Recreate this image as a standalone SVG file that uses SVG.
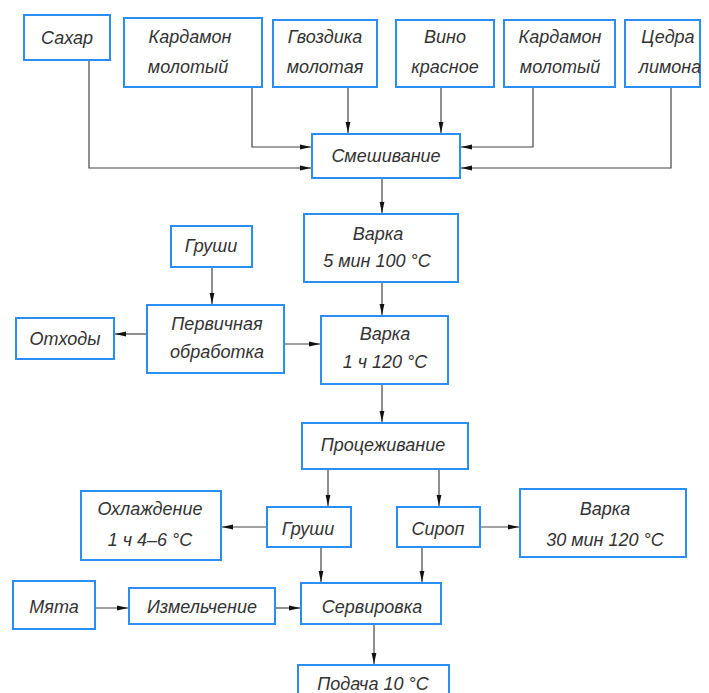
<svg xmlns="http://www.w3.org/2000/svg" width="709" height="693" viewBox="0 0 709 693">
<style>
.b{fill:#fff;stroke:#2b8ef5;stroke-width:2}
.t{font-family:"Liberation Sans",Arial,sans-serif;font-style:italic;font-size:18px;fill:#333;text-anchor:middle}
.c{fill:none;stroke:#444;stroke-width:1.2}
</style>
<defs>
<marker id="a" markerUnits="userSpaceOnUse" markerWidth="12" markerHeight="8" refX="11" refY="4" orient="auto">
<path d="M0,1.6 L11,4 L0,6.4 z" fill="#111"/>
</marker>
</defs>
<rect width="709" height="693" fill="#fff"/>
<g id="connectors">
<path class="c" d="M89,60 V168 H311" marker-end="url(#a)"/>
<path class="c" d="M252,87 V147 H311" marker-end="url(#a)"/>
<path class="c" d="M348,87 V133" marker-end="url(#a)"/>
<path class="c" d="M441,87 V133" marker-end="url(#a)"/>
<path class="c" d="M533,87 V147 H461" marker-end="url(#a)"/>
<path class="c" d="M671,87 V168 H461" marker-end="url(#a)"/>
<path class="c" d="M382,178 V213" marker-end="url(#a)"/>
<path class="c" d="M212,267 V304" marker-end="url(#a)"/>
<path class="c" d="M147,334 H115" marker-end="url(#a)"/>
<path class="c" d="M284,344 H320" marker-end="url(#a)"/>
<path class="c" d="M382,282 V315" marker-end="url(#a)"/>
<path class="c" d="M382,384 V422" marker-end="url(#a)"/>
<path class="c" d="M328,469 V506" marker-end="url(#a)"/>
<path class="c" d="M439,469 V506" marker-end="url(#a)"/>
<path class="c" d="M267,527 H222" marker-end="url(#a)"/>
<path class="c" d="M480,527 H519" marker-end="url(#a)"/>
<path class="c" d="M321,547 V582" marker-end="url(#a)"/>
<path class="c" d="M422,547 V582" marker-end="url(#a)"/>
<path class="c" d="M95,608 H128" marker-end="url(#a)"/>
<path class="c" d="M275,608 H300" marker-end="url(#a)"/>
<path class="c" d="M374,624 V664" marker-end="url(#a)"/>
</g>
<g id="n_sahar"><rect class="b" x="24" y="15" width="86" height="45"/><text class="t" x="67" y="44">Сахар</text></g>
<g id="n_kard1"><rect class="b" x="124" y="18" width="138" height="69"/><text class="t" x="190" y="43">Кардамон</text><text class="t" x="188" y="73">молотый</text></g>
<g id="n_gvozd"><rect class="b" x="273" y="20" width="104" height="67"/><text class="t" x="325" y="43">Гвоздика</text><text class="t" x="325" y="73">молотая</text></g>
<g id="n_vino"><rect class="b" x="396" y="20" width="98" height="67"/><text class="t" x="445" y="43">Вино</text><text class="t" x="445" y="73">красное</text></g>
<g id="n_kard2"><rect class="b" x="504" y="20" width="111" height="67"/><text class="t" x="560" y="43">Кардамон</text><text class="t" x="560" y="73">молотый</text></g>
<g id="n_cedra"><rect class="b" x="625" y="20" width="75" height="67"/><text class="t" x="668" y="43">Цедра</text><text class="t" x="670" y="73">лимона</text></g>
<g id="n_smesh"><rect class="b" x="312" y="134" width="148" height="44"/><text class="t" x="386" y="162">Смешивание</text></g>
<g id="n_varka5"><rect class="b" x="304" y="214" width="154" height="68"/><text class="t" x="378" y="240">Варка</text><text class="t" x="377" y="267">5 мин 100 °С</text></g>
<g id="n_grushi1"><rect class="b" x="171" y="226" width="81" height="41"/><text class="t" x="211" y="252">Груши</text></g>
<g id="n_perv"><rect class="b" x="147" y="305" width="137" height="68"/><text class="t" x="217" y="330">Первичная</text><text class="t" x="217" y="358">обработка</text></g>
<g id="n_othody"><rect class="b" x="16" y="318" width="98" height="41"/><text class="t" x="65" y="345">Отходы</text></g>
<g id="n_varka1"><rect class="b" x="321" y="316" width="127" height="68"/><text class="t" x="385" y="340">Варка</text><text class="t" x="385" y="368">1 ч 120 °С</text></g>
<g id="n_proc"><rect class="b" x="302" y="423" width="166" height="46"/><text class="t" x="383" y="451">Процеживание</text></g>
<g id="n_grushi2"><rect class="b" x="267" y="507" width="84" height="40"/><text class="t" x="308" y="535">Груши</text></g>
<g id="n_sirop"><rect class="b" x="397" y="507" width="83" height="40"/><text class="t" x="438" y="535">Сироп</text></g>
<g id="n_ohl"><rect class="b" x="81" y="491" width="140" height="69"/><text class="t" x="150" y="515">Охлаждение</text><text class="t" x="150" y="546">1 ч 4–6 °С</text></g>
<g id="n_varka30"><rect class="b" x="520" y="489" width="166" height="68"/><text class="t" x="605" y="515">Варка</text><text class="t" x="605" y="546">30 мин 120 °С</text></g>
<g id="n_myata"><rect class="b" x="13" y="581" width="82" height="48"/><text class="t" x="54" y="613">Мята</text></g>
<g id="n_izm"><rect class="b" x="129" y="588" width="146" height="36"/><text class="t" x="202" y="613">Измельчение</text></g>
<g id="n_serv"><rect class="b" x="301" y="583" width="140" height="41"/><text class="t" x="372" y="613">Сервировка</text></g>
<g id="n_podacha"><rect class="b" x="298" y="665" width="151" height="40"/><text class="t" x="373" y="690">Подача 10 °С</text></g>
</svg>
